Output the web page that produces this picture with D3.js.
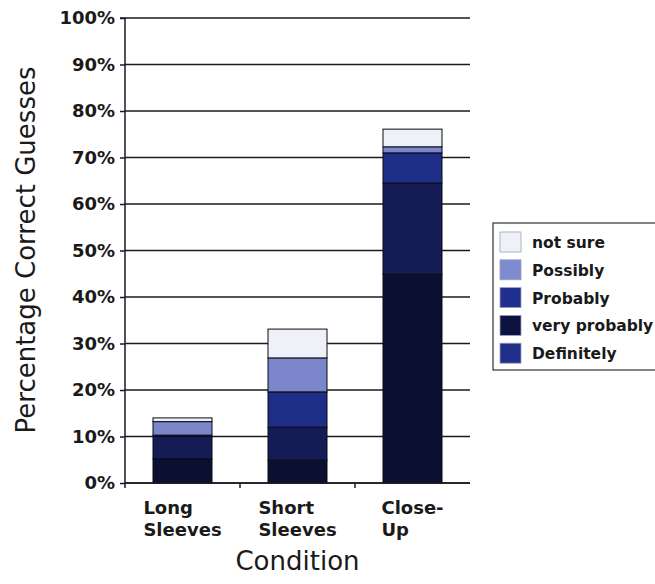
<!DOCTYPE html>
<html>
<head>
<meta charset="utf-8">
<script src="https://cdn.jsdelivr.net/npm/d3@7"></script>
<style>
html,body{margin:0;padding:0;background:#fff;}
svg{display:block;}
</style>
</head>
<body>
<svg id="chart" width="655" height="584"></svg>
<script>
// ---- data ----
const categories = ["Long Sleeves", "Short Sleeves", "Close-Up"];
const categoryLines = [["Long", "Sleeves"], ["Short", "Sleeves"], ["Close-", "Up"]];
const seriesNames = ["Definitely", "very probably", "Probably", "Possibly", "not sure"]; // bottom -> top
const definitely   = [5.2, 4.9, 44.9];
const veryProbably = [4.8, 7.1, 19.6];
const probably     = [0.3, 7.6, 6.5];
const possibly     = [2.9, 7.3, 1.3];
const notSure      = [0.8, 6.2, 3.8];
const yTicks = [0, 10, 20, 30, 40, 50, 60, 70, 80, 90, 100];
const legendOrder = ["not sure", "Possibly", "Probably", "very probably", "Definitely"];

const barColors = {"Definitely":"#0b0f30","very probably":"#141b55","Probably":"#1e2d86","Possibly":"#7b87ca","not sure":"#eff1f9"};
const legendColors = {"not sure":"#eff1f9","Possibly":"#7f8bd0","Probably":"#21308f","very probably":"#0d1240","Definitely":"#20308a"};

const table = categories.map((c, i) => ({
  category: c,
  "Definitely": definitely[i],
  "very probably": veryProbably[i],
  "Probably": probably[i],
  "Possibly": possibly[i],
  "not sure": notSure[i]
}));

const svg = d3.select("#chart");
svg.append("rect").attr("width", 655).attr("height", 584).attr("fill", "#fff");

const pLeft = 125, pRight = 470, pTop = 18, pBottom = 483;
const y = d3.scaleLinear().domain([0, 100]).range([pBottom, pTop]);
const xBand = d3.scaleBand().domain(categories).range([pLeft, pRight]).padding(0);
const x = d3.scaleBand().domain(categories).range([pLeft, pRight]).paddingInner(0.487).paddingOuter(0.2435);

const font = "'DejaVu Sans', Verdana, sans-serif";

// gridlines
svg.append("g").selectAll("line").data(yTicks).join("line")
  .attr("x1", pLeft).attr("x2", pRight)
  .attr("y1", d => y(d)).attr("y2", d => y(d))
  .attr("stroke", "#1a1a22").attr("stroke-width", 1.5);

// stacked bars
const stack = d3.stack().keys(seriesNames);
const layers = stack(table);
svg.append("g").selectAll("g").data(layers).join("g")
  .attr("fill", d => barColors[d.key])
  .selectAll("rect").data(d => d).join("rect")
  .attr("x", d => x(d.data.category))
  .attr("width", x.bandwidth())
  .attr("y", d => y(d[1]))
  .attr("height", d => y(d[0]) - y(d[1]))
  .attr("stroke", "#0a0a14").attr("stroke-width", 1);

// y axis
const yAxis = d3.axisLeft(y).tickValues(yTicks).tickFormat(d => d + "%").tickSize(5).tickPadding(5);
const gy = svg.append("g").attr("transform", `translate(${pLeft},0)`).call(yAxis);
gy.select(".domain").attr("stroke", "#1a1a22").attr("stroke-width", 1.5).attr("d", `M-5,${pTop}H0V${pBottom + 5}`);
gy.selectAll(".tick line").attr("stroke", "#1a1a22").attr("stroke-width", 1.5);
gy.selectAll(".tick text").attr("font-family", font).attr("font-size", 18).attr("font-weight", "bold").attr("fill", "#1a1a1a");

// x axis line + ticks at band boundaries
svg.append("line").attr("x1", pLeft).attr("x2", pRight).attr("y1", pBottom).attr("y2", pBottom)
  .attr("stroke", "#1a1a22").attr("stroke-width", 1.5);
svg.append("g").selectAll("line").data(categories.slice(1)).join("line")
  .attr("x1", d => xBand(d)).attr("x2", d => xBand(d))
  .attr("y1", pBottom).attr("y2", pBottom + 5)
  .attr("stroke", "#1a1a22").attr("stroke-width", 1.5);

// x category labels (left-aligned block, centered on band)
categories.forEach((c, i) => {
  const t = svg.append("text").attr("font-family", font).attr("font-size", 18).attr("font-weight", "bold").attr("fill", "#1a1a1a");
  categoryLines[i].forEach((ln, j) => {
    t.append("tspan").attr("x", 0).attr("y", 514 + j * 22).text(ln);
  });
  const w = t.node().getBBox().width;
  const cx = xBand(c) + xBand.bandwidth() / 2;
  t.attr("transform", `translate(${cx - w / 2},0)`);
});

// axis titles
svg.append("text").attr("x", (pLeft + pRight) / 2).attr("y", 570).attr("text-anchor", "middle")
  .attr("font-family", font).attr("font-size", 26).attr("fill", "#1a1a1a").text("Condition");
svg.append("text").attr("transform", `translate(35,250) rotate(-90)`).attr("text-anchor", "middle")
  .attr("font-family", font).attr("font-size", 26).attr("fill", "#1a1a1a").text("Percentage Correct Guesses");

// legend
const lg = svg.append("g");
lg.append("rect").attr("x", 493).attr("y", 223).attr("width", 170).attr("height", 147)
  .attr("fill", "#fff").attr("stroke", "#333").attr("stroke-width", 1.2);
const items = lg.selectAll("g.item").data(legendOrder).join("g").attr("class", "item")
  .attr("transform", (d, i) => `translate(0,${242 + i * 27.8})`);
items.append("rect").attr("x", 500).attr("y", -10).attr("width", 21).attr("height", 20)
  .attr("fill", d => legendColors[d]).attr("stroke", "#9aa0b8").attr("stroke-width", 0.8);
items.append("text").attr("x", 532).attr("y", 6).attr("font-family", font).attr("font-size", 15.5)
  .attr("font-weight", "bold").attr("fill", "#1a1a1a").text(d => d);
</script>
</body>
</html>
